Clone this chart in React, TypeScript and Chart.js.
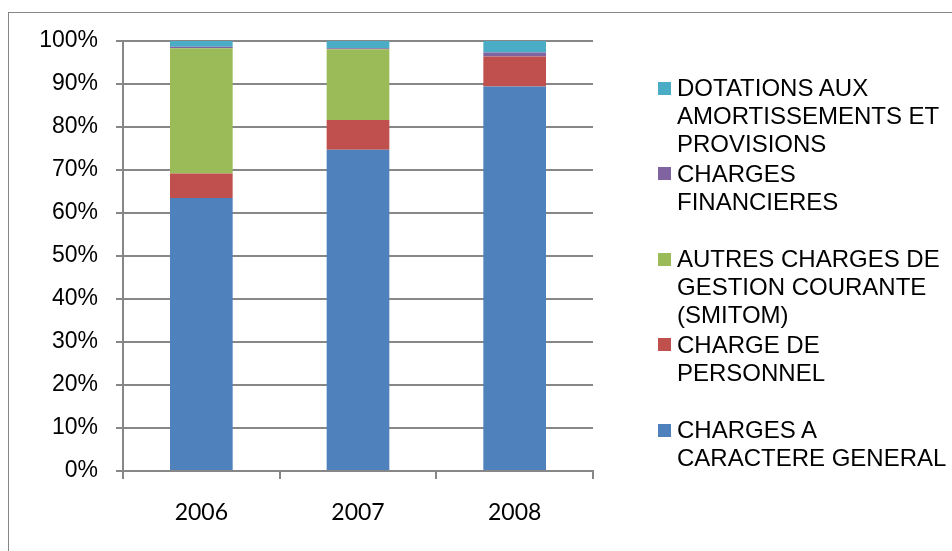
import React, { useEffect, useRef } from "react";
import { Chart, registerables } from "chart.js";
Chart.register(...registerables);

// ---- data ----
const years = ["2006", "2007", "2008"];
const chargesGeneral = [63.5, 74.7, 89.4];
const chargePersonnel = [5.7, 6.9, 7.0];
const autresCharges = [29.1, 16.5, 0];
const chargesFinancieres = [0.35, 0.2, 0.9];
const dotations = [1.35, 1.7, 2.7];
const yTickStep = 10;

// series names as displayed (line breaks as in the legend)
const nameGeneral = ["CHARGES A", "CARACTERE GENERAL"];
const namePersonnel = ["CHARGE DE", "PERSONNEL"];
const nameAutres = ["AUTRES CHARGES DE", "GESTION COURANTE", "(SMITOM)"];
const nameFinancieres = ["CHARGES", "FINANCIERES"];
const nameDotations = ["DOTATIONS AUX", "AMORTISSEMENTS ET", "PROVISIONS"];

// ---- styles ----
const COLORS = ["#4F81BD", "#C0504D", "#9BBB59", "#8064A2", "#4BACC6"];
const GRID = "#878787";

const series = [
  { name: nameGeneral, data: chargesGeneral, color: COLORS[0] },
  { name: namePersonnel, data: chargePersonnel, color: COLORS[1] },
  { name: nameAutres, data: autresCharges, color: COLORS[2] },
  { name: nameFinancieres, data: chargesFinancieres, color: COLORS[3] },
  { name: nameDotations, data: dotations, color: COLORS[4] },
];

export default function App() {
  const ref = useRef<HTMLCanvasElement | null>(null);

  useEffect(() => {
    if (!ref.current) return;
    const chart = new Chart(ref.current, {
      type: "bar",
      data: {
        labels: years,
        datasets: series.map((s) => ({
          label: s.name.join(" "),
          data: s.data,
          backgroundColor: s.color,
          borderWidth: 0,
          categoryPercentage: 1,
          barPercentage: 0.4,
        })),
      },
      options: {
        animation: false,
        responsive: false,
        devicePixelRatio: 1,
        layout: { padding: { left: 0, top: 41, right: 359, bottom: 0 } },
        plugins: { legend: { display: false }, tooltip: { enabled: false } },
        scales: {
          x: {
            stacked: true,
            grid: {
              drawOnChartArea: false,
              drawTicks: true,
              tickLength: 8,
              color: GRID,
              lineWidth: 2,
              offset: true,
            },
            border: { color: GRID, width: 2 },
            ticks: {
              color: "#000",
              font: { family: "Lato", size: 23 },
              padding: 20,
            },
            afterFit: (scale: any) => {
              scale.height = 80;
            },
          },
          y: {
            stacked: true,
            min: 0,
            max: 100,
            ticks: {
              stepSize: yTickStep,
              callback: (v: any) => v + "%",
              color: "#000",
              font: { family: "Liberation Sans", size: 23 },
              padding: 18,
            },
            grid: { color: GRID, lineWidth: 2, tickLength: 7 },
            border: { color: GRID, width: 2 },
            afterFit: (scale: any) => {
              scale.width = 123;
            },
          },
        },
      },
    });
    return () => chart.destroy();
  }, []);

  const legendItems = [...series].reverse();

  return (
    <div
      style={{
        position: "fixed",
        left: 0,
        top: 0,
        width: 952,
        height: 551,
        background: "#fff",
        overflow: "hidden",
      }}
    >
      <div
        style={{
          position: "absolute",
          left: 8,
          top: 12,
          width: 1000,
          height: 600,
          border: "1px solid #868686",
          boxSizing: "border-box",
        }}
      />
      <canvas
        ref={ref}
        width={952}
        height={551}
        style={{ position: "absolute", left: 0, top: 0, width: 952, height: 551 }}
      />
      {legendItems.map((s, i) => (
        <div
          key={i}
          style={{
            position: "absolute",
            left: 658,
            top: 74 + i * 85.5,
            fontFamily: "'Liberation Sans', Arial, sans-serif",
            fontSize: 24,
            lineHeight: "28px",
            color: "#000",
            whiteSpace: "nowrap",
          }}
        >
          <div
            style={{
              position: "absolute",
              left: 0,
              top: 7.5,
              width: 13,
              height: 13,
              background: s.color,
            }}
          />
          <div style={{ position: "absolute", left: 19, top: 0 }}>
            {s.name.map((line, j) => (
              <div key={j}>{line}</div>
            ))}
          </div>
        </div>
      ))}
    </div>
  );
}
